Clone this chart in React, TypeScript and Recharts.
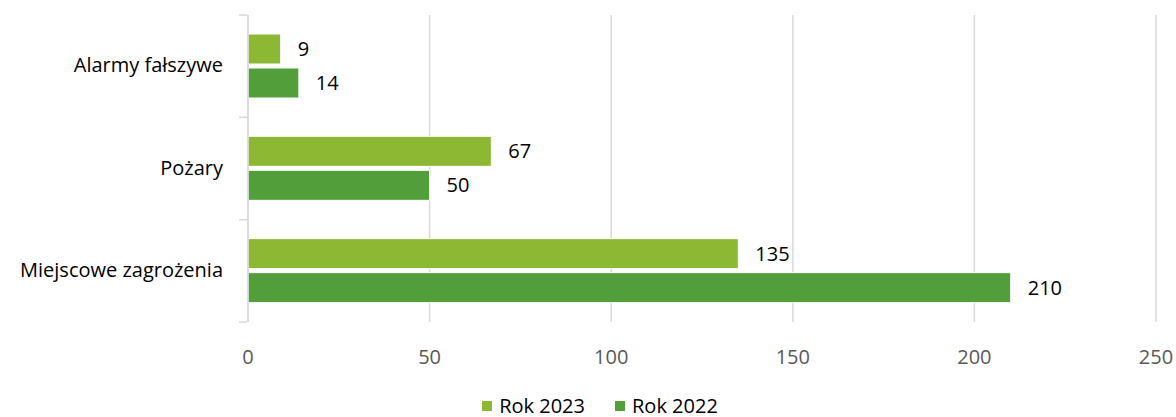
import { BarChart, Bar, XAxis, YAxis, CartesianGrid, Legend, LabelList } from "recharts";

const categories = ["Alarmy fałszywe", "Pożary", "Miejscowe zagrożenia"];
const rok2023 = [9, 67, 135];
const rok2022 = [14, 50, 210];
const xTicks = [0, 50, 100, 150, 200, 250];

const series = [
    { key: "r2023", name: "Rok 2023", color: "#8CB833", values: rok2023 },
    { key: "r2022", name: "Rok 2022", color: "#529E3A", values: rok2022 },
];

const data = categories.map((name, i) => ({
    name,
    r2023: rok2023[i],
    r2022: rok2022[i],
}));

const FONT = "'Open Sans', sans-serif";
const FS = 20;

// category label plus the small boundary ticks Excel draws on the axis
const CategoryTick = (props: any) => {
    const { x, y, payload, index } = props;
    const half = payload?.offset ?? 0;
    const isLast = index === categories.length - 1;
    const ax = x + 29;
    return (
        <g>
            <line x1={ax - 8} x2={ax} y1={y - half} y2={y - half} stroke="#D9D9D9" strokeWidth={1.5} />
            {isLast && (
                <line x1={ax - 8} x2={ax} y1={y + half} y2={y + half} stroke="#D9D9D9" strokeWidth={1.5} />
            )}
            <text x={ax - 24} y={y} dy={6} textAnchor="end" fill="#000" fontSize={FS} fontFamily={FONT}>
                {payload.value}
            </text>
        </g>
    );
};

const LegendContent = () => (
    <div
        style={{
            display: "flex",
            justifyContent: "center",
            gap: 30,
            paddingTop: 27,
            paddingLeft: 44,
            fontFamily: FONT,
            fontSize: FS,
            color: "#000",
            lineHeight: "24px",
        }}
    >
        {series.map((s) => (
            <div key={s.key} style={{ display: "flex", alignItems: "center" }}>
                <span style={{ width: 10, height: 10, background: s.color, marginRight: 7, display: "inline-block" }} />
                {s.name}
            </div>
        ))}
    </div>
);

export default function App() {
    return (
        <div style={{ position: "absolute", left: 0, top: 0 }}>
            <BarChart
                width={1176}
                height={417}
                data={data}
                layout="vertical"
                margin={{ top: 15, right: 20, bottom: 0, left: 0 }}
                barGap={4}
            >
                <CartesianGrid horizontal={false} stroke="#D9D9D9" strokeWidth={1.5} />
                <XAxis
                    type="number"
                    domain={[0, 250]}
                    ticks={xTicks}
                    axisLine={false}
                    tickLine={false}
                    height={45}
                    tick={{ fill: "#595959", fontSize: FS, fontFamily: FONT, dy: 20 }}
                />
                <YAxis
                    type="category"
                    dataKey="name"
                    width={248}
                    axisLine={{ stroke: "#D9D9D9", strokeWidth: 1.5 }}
                    tickLine={false}
                    tick={<CategoryTick />}
                    tickMargin={24}
                />
                <Legend verticalAlign="bottom" height={50} content={<LegendContent />} />
                {series.map((s) => (
                    <Bar
                        key={s.key}
                        dataKey={s.key}
                        name={s.name}
                        fill={s.color}
                        stroke="#fff"
                        strokeWidth={1}
                        barSize={30}
                        isAnimationActive={false}
                    >
                        <LabelList dataKey={s.key} position="right" offset={17} fill="#000" fontSize={FS} fontFamily={FONT} />
                    </Bar>
                ))}
            </BarChart>
        </div>
    );
}
